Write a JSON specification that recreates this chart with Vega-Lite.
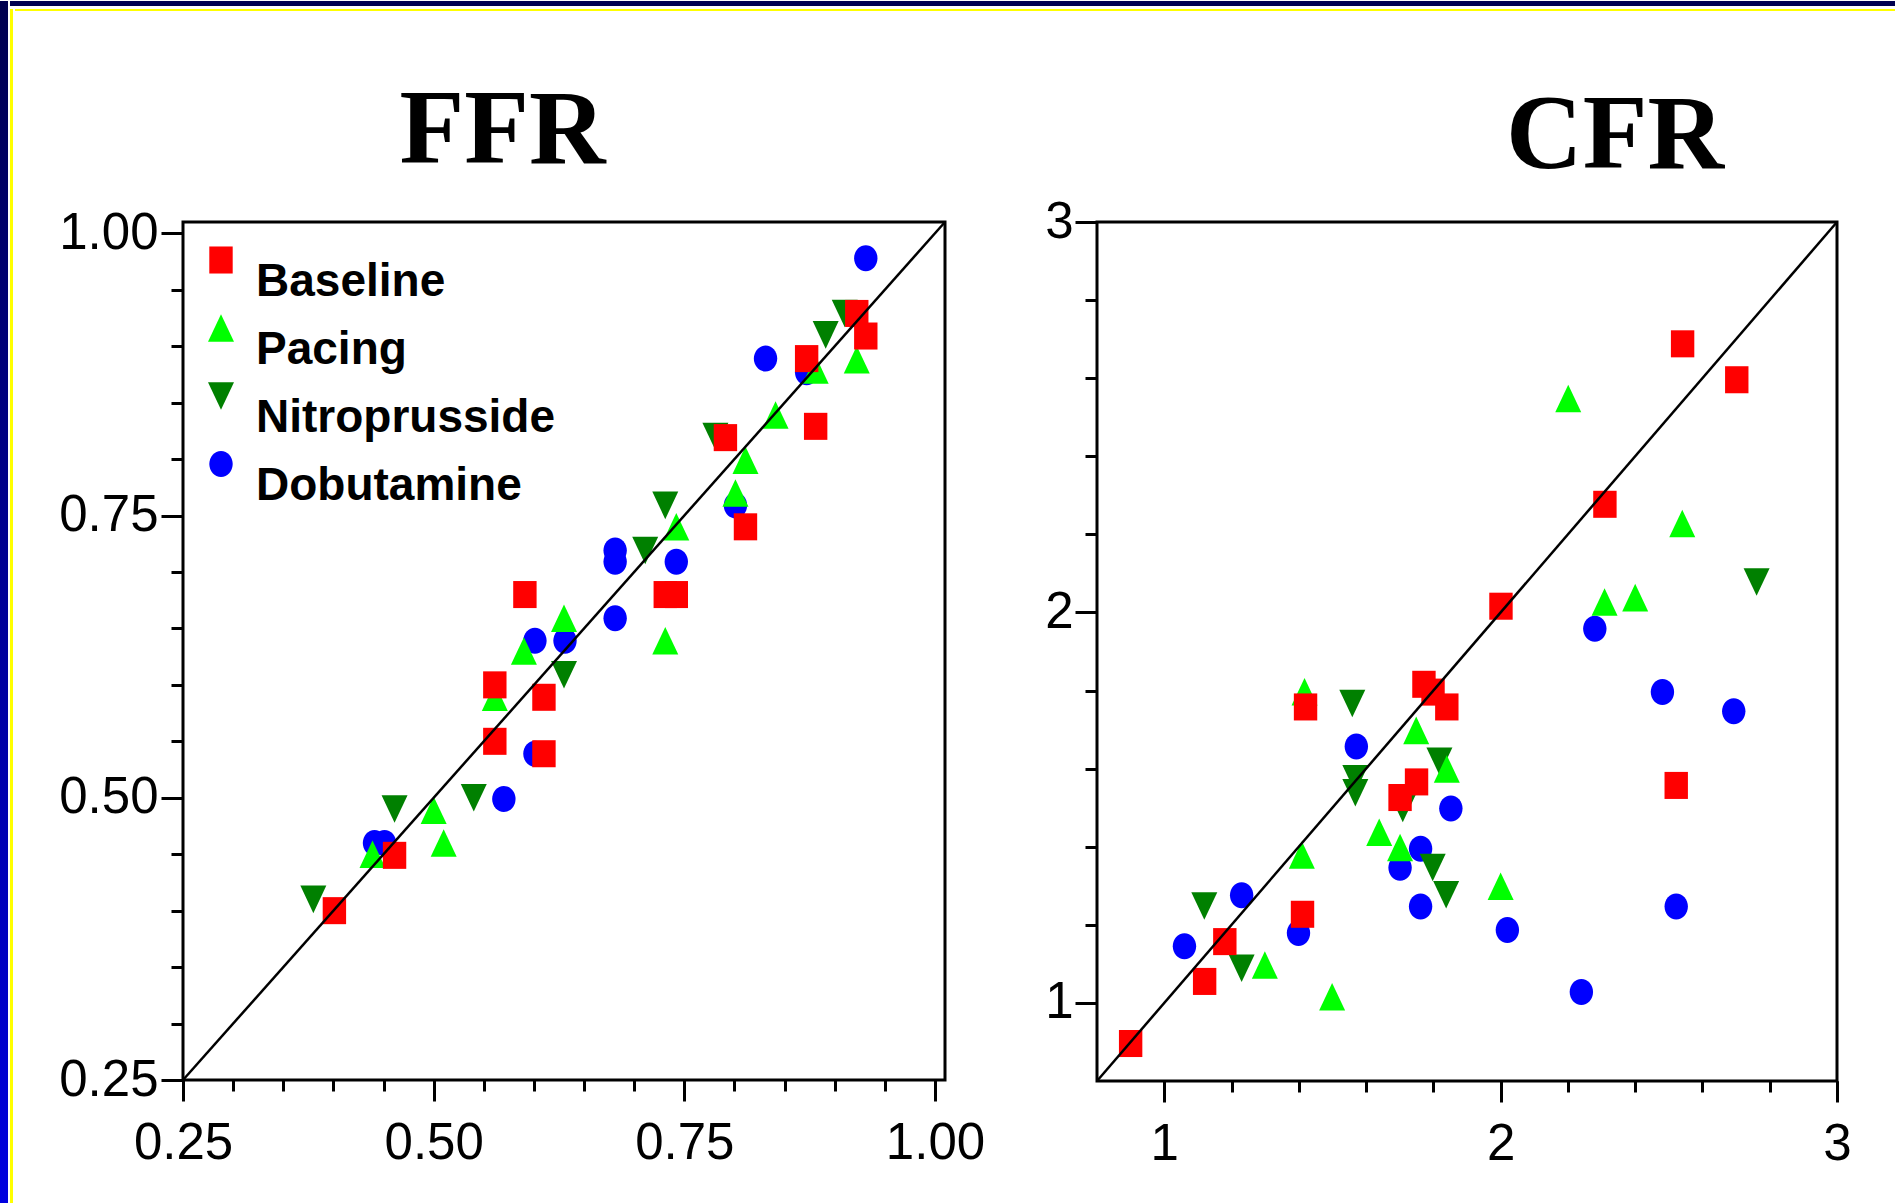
{
  "$schema": "https://vega.github.io/schema/vega-lite/v6.json",
  "padding": 0,
  "background": "white",
  "config": {"view": {"stroke": null}, "font": "Liberation Sans"},
  "datasets": {
    "ffr": [
      {"series": "Dobutamine", "x": 0.441, "y": 0.460},
      {"series": "Dobutamine", "x": 0.451, "y": 0.460},
      {"series": "Dobutamine", "x": 0.570, "y": 0.499},
      {"series": "Dobutamine", "x": 0.601, "y": 0.539},
      {"series": "Dobutamine", "x": 0.601, "y": 0.639},
      {"series": "Dobutamine", "x": 0.631, "y": 0.639},
      {"series": "Dobutamine", "x": 0.681, "y": 0.719},
      {"series": "Dobutamine", "x": 0.681, "y": 0.709},
      {"series": "Dobutamine", "x": 0.681, "y": 0.659},
      {"series": "Dobutamine", "x": 0.742, "y": 0.709},
      {"series": "Dobutamine", "x": 0.801, "y": 0.759},
      {"series": "Dobutamine", "x": 0.831, "y": 0.889},
      {"series": "Dobutamine", "x": 0.872, "y": 0.877},
      {"series": "Dobutamine", "x": 0.931, "y": 0.978},
      {"series": "Nitroprusside", "x": 0.380, "y": 0.410},
      {"series": "Nitroprusside", "x": 0.461, "y": 0.490},
      {"series": "Nitroprusside", "x": 0.540, "y": 0.500},
      {"series": "Nitroprusside", "x": 0.630, "y": 0.609},
      {"series": "Nitroprusside", "x": 0.711, "y": 0.719},
      {"series": "Nitroprusside", "x": 0.731, "y": 0.759},
      {"series": "Nitroprusside", "x": 0.781, "y": 0.820},
      {"series": "Nitroprusside", "x": 0.891, "y": 0.910},
      {"series": "Nitroprusside", "x": 0.910, "y": 0.929},
      {"series": "Pacing", "x": 0.439, "y": 0.450},
      {"series": "Pacing", "x": 0.500, "y": 0.489},
      {"series": "Pacing", "x": 0.510, "y": 0.460},
      {"series": "Pacing", "x": 0.561, "y": 0.589},
      {"series": "Pacing", "x": 0.590, "y": 0.630},
      {"series": "Pacing", "x": 0.630, "y": 0.659},
      {"series": "Pacing", "x": 0.731, "y": 0.639},
      {"series": "Pacing", "x": 0.742, "y": 0.740},
      {"series": "Pacing", "x": 0.801, "y": 0.770},
      {"series": "Pacing", "x": 0.811, "y": 0.799},
      {"series": "Pacing", "x": 0.841, "y": 0.839},
      {"series": "Pacing", "x": 0.881, "y": 0.879},
      {"series": "Pacing", "x": 0.922, "y": 0.888},
      {"series": "Baseline", "x": 0.401, "y": 0.400},
      {"series": "Baseline", "x": 0.461, "y": 0.449},
      {"series": "Baseline", "x": 0.561, "y": 0.550},
      {"series": "Baseline", "x": 0.610, "y": 0.539},
      {"series": "Baseline", "x": 0.591, "y": 0.680},
      {"series": "Baseline", "x": 0.561, "y": 0.600},
      {"series": "Baseline", "x": 0.610, "y": 0.589},
      {"series": "Baseline", "x": 0.731, "y": 0.680},
      {"series": "Baseline", "x": 0.742, "y": 0.680},
      {"series": "Baseline", "x": 0.791, "y": 0.819},
      {"series": "Baseline", "x": 0.881, "y": 0.829},
      {"series": "Baseline", "x": 0.872, "y": 0.889},
      {"series": "Baseline", "x": 0.922, "y": 0.929},
      {"series": "Baseline", "x": 0.931, "y": 0.909},
      {"series": "Baseline", "x": 0.811, "y": 0.740}
    ],
    "cfr": [
      {"series": "Dobutamine", "x": 1.060, "y": 1.145},
      {"series": "Dobutamine", "x": 1.230, "y": 1.276},
      {"series": "Dobutamine", "x": 1.399, "y": 1.179},
      {"series": "Dobutamine", "x": 1.762, "y": 1.247},
      {"series": "Dobutamine", "x": 2.020, "y": 1.187},
      {"series": "Dobutamine", "x": 1.571, "y": 1.657},
      {"series": "Dobutamine", "x": 1.701, "y": 1.346},
      {"series": "Dobutamine", "x": 1.762, "y": 1.395},
      {"series": "Dobutamine", "x": 1.852, "y": 1.498},
      {"series": "Dobutamine", "x": 2.280, "y": 1.958},
      {"series": "Dobutamine", "x": 2.481, "y": 1.796},
      {"series": "Dobutamine", "x": 2.693, "y": 1.747},
      {"series": "Dobutamine", "x": 2.522, "y": 1.247},
      {"series": "Dobutamine", "x": 2.240, "y": 1.028},
      {"series": "Nitroprusside", "x": 1.119, "y": 1.248},
      {"series": "Nitroprusside", "x": 1.230, "y": 1.089},
      {"series": "Nitroprusside", "x": 1.559, "y": 1.767},
      {"series": "Nitroprusside", "x": 1.568, "y": 1.574},
      {"series": "Nitroprusside", "x": 1.568, "y": 1.538},
      {"series": "Nitroprusside", "x": 1.709, "y": 1.498},
      {"series": "Nitroprusside", "x": 1.818, "y": 1.619},
      {"series": "Nitroprusside", "x": 1.798, "y": 1.347},
      {"series": "Nitroprusside", "x": 1.838, "y": 1.277},
      {"series": "Nitroprusside", "x": 2.761, "y": 2.078},
      {"series": "Pacing", "x": 1.299, "y": 1.097},
      {"series": "Pacing", "x": 1.499, "y": 1.016},
      {"series": "Pacing", "x": 1.409, "y": 1.379},
      {"series": "Pacing", "x": 1.417, "y": 1.797},
      {"series": "Pacing", "x": 1.639, "y": 1.437},
      {"series": "Pacing", "x": 1.701, "y": 1.398},
      {"series": "Pacing", "x": 1.749, "y": 1.698},
      {"series": "Pacing", "x": 1.840, "y": 1.599},
      {"series": "Pacing", "x": 2.000, "y": 1.299},
      {"series": "Pacing", "x": 2.201, "y": 2.548},
      {"series": "Pacing", "x": 2.540, "y": 2.228},
      {"series": "Pacing", "x": 2.309, "y": 2.027},
      {"series": "Pacing", "x": 2.400, "y": 2.038},
      {"series": "Baseline", "x": 0.900, "y": 0.896},
      {"series": "Baseline", "x": 1.120, "y": 1.055},
      {"series": "Baseline", "x": 1.180, "y": 1.157},
      {"series": "Baseline", "x": 1.411, "y": 1.227},
      {"series": "Baseline", "x": 1.420, "y": 1.758},
      {"series": "Baseline", "x": 1.701, "y": 1.526},
      {"series": "Baseline", "x": 1.750, "y": 1.566},
      {"series": "Baseline", "x": 1.772, "y": 1.816},
      {"series": "Baseline", "x": 1.799, "y": 1.796},
      {"series": "Baseline", "x": 1.840, "y": 1.758},
      {"series": "Baseline", "x": 2.001, "y": 2.016},
      {"series": "Baseline", "x": 2.310, "y": 2.277},
      {"series": "Baseline", "x": 2.541, "y": 2.688},
      {"series": "Baseline", "x": 2.702, "y": 2.596},
      {"series": "Baseline", "x": 2.522, "y": 1.557}
    ],
    "ffrdiag": [{"x": 0.25, "y": 0.25}, {"x": 1.01, "y": 1.01}],
    "cfrdiag": [{"x": 0.8, "y": 0.8}, {"x": 3.0, "y": 3.0}]
  },
  "spacing": 0,
  "hconcat": [
    {
      "width": 8, "height": 1203,
      "view": {"stroke": null, "fill": {"gradient": "linear", "x1": 0, "y1": 0, "x2": 0, "y2": 1, "stops": [{"offset": 0, "color": "#000050"}, {"offset": 1, "color": "#0000E0"}]}},
      "data": {"values": [{}]},
      "mark": {"type": "point", "opacity": 0},
      "encoding": {}
    },
    {
      "spacing": 0,
      "vconcat": [
        {
          "width": 1887, "height": 5,
          "view": {"stroke": null, "fill": "#000050"},
          "data": {"values": [{}]},
          "mark": {"type": "point", "opacity": 0},
          "encoding": {}
        },
        {
          "spacing": 0,
          "hconcat": [
            {
              "width": 3, "height": 1198,
              "view": {"stroke": null, "fill": "#FFFF00"},
              "data": {"values": [{}]},
              "mark": {"type": "point", "opacity": 0},
              "encoding": {}
            },
            {
              "spacing": 63,
              "vconcat": [
                {
                  "width": 1884, "height": 2,
                  "view": {"stroke": null, "fill": "#FFFF00"},
                  "data": {"values": [{}]},
                  "mark": {"type": "point", "opacity": 0},
                  "encoding": {}
                },
                {
                  "spacing": 0,
                  "hconcat": [
                    {
                      "width": 42, "height": 10,
                      "view": {"stroke": null},
                      "data": {"values": [{}]},
                      "mark": {"type": "point", "opacity": 0},
                      "encoding": {}
                    },
                    {
                      "spacing": 56,
                      "resolve": {"legend": {"color": "independent", "shape": "independent"}},
                      "hconcat": [
                        {
                          "width": 762, "height": 858,
                          "view": {"stroke": "black", "strokeWidth": 3},
                          "title": {"text": "FFR", "font": "Liberation Serif", "fontSize": 106, "fontWeight": "bold", "color": "black", "anchor": "middle", "frame": "group", "dx": -61.5, "offset": -61.4, "baseline": "alphabetic"},
                          "resolve": {"axis": {"x": "independent", "y": "independent"}},
                          "layer": [
                            {
                              "data": {"name": "ffr"},
                              "mark": {"type": "point", "filled": true, "opacity": 1, "size": 676, "strokeWidth": 0},
                              "encoding": {
                                "x": {"field": "x", "type": "quantitative", "scale": {"domain": [0.25, 1.01], "nice": false, "zero": false},
                                  "axis": {"orient": "bottom", "title": null, "grid": false, "domain": false, "values": [0.25, 0.5, 0.75, 1.0], "format": ".2f", "labelFont": "Liberation Sans", "labelFontSize": 51, "labelColor": "black", "labelFlush": false, "labelOverlap": false, "labelPadding": 17, "tickColor": "black", "tickWidth": 3, "tickSize": 21}},
                                "y": {"field": "y", "type": "quantitative", "scale": {"domain": [0.25, 1.01], "nice": false, "zero": false},
                                  "axis": {"orient": "left", "title": null, "grid": false, "domain": false, "values": [0.25, 0.5, 0.75, 1.0], "format": ".2f", "labelFont": "Liberation Sans", "labelFontSize": 51, "labelColor": "black", "labelFlush": false, "labelOverlap": false, "labelPadding": 3, "tickColor": "black", "tickWidth": 3, "tickSize": 22}},
                                "color": {"field": "series", "type": "nominal",
                                  "scale": {"domain": ["Baseline", "Pacing", "Nitroprusside", "Dobutamine"], "range": ["#FF0000", "#00FF00", "#008000", "#0000FF"]},
                                  "legend": {"title": null, "orient": "none", "legendX": 15, "legendY": 15, "padding": 0, "labelFont": "Liberation Sans", "labelFontSize": 46, "labelFontWeight": "bold", "labelColor": "black", "labelBaseline": "top", "labelOffset": 12, "labelLimit": 500, "rowPadding": 0, "symbolSize": 676, "symbolStrokeWidth": 0, "symbolOpacity": 1}},
                                "shape": {"field": "series", "type": "nominal",
                                  "scale": {"domain": ["Baseline", "Pacing", "Nitroprusside", "Dobutamine"], "range": ["M-0.9,-1.04H0.9V1.04H-0.9Z", "M0,-1.06L1,1.06L-1,1.06Z", "M0,1.06L1,-1.06L-1,-1.06Z", "M-0.9,0A0.9,1,0,1,1,0.9,0A0.9,1,0,1,1,-0.9,0Z"]},
                                  "legend": {"title": null, "orient": "none", "legendX": 15, "legendY": 15, "padding": 0, "labelFont": "Liberation Sans", "labelFontSize": 46, "labelFontWeight": "bold", "labelColor": "black", "labelBaseline": "top", "labelOffset": 12, "labelLimit": 500, "rowPadding": 0, "symbolSize": 676, "symbolStrokeWidth": 0, "symbolOpacity": 1}}
                              }
                            },
                            {
                              "data": {"name": "ffrdiag"},
                              "mark": {"type": "line", "color": "black", "strokeWidth": 2.5},
                              "encoding": {
                                "x": {"field": "x", "type": "quantitative", "scale": {"domain": [0.25, 1.01], "nice": false, "zero": false},
                                  "axis": {"orient": "bottom", "title": null, "grid": false, "domain": false, "labels": false, "values": [0.25, 0.3, 0.35, 0.4, 0.45, 0.5, 0.55, 0.6, 0.65, 0.7, 0.75, 0.8, 0.85, 0.9, 0.95, 1.0], "tickColor": "black", "tickWidth": 3, "tickSize": 11}},
                                "y": {"field": "y", "type": "quantitative", "scale": {"domain": [0.25, 1.01], "nice": false, "zero": false},
                                  "axis": {"orient": "left", "title": null, "grid": false, "domain": false, "labels": false, "values": [0.25, 0.3, 0.35, 0.4, 0.45, 0.5, 0.55, 0.6, 0.65, 0.7, 0.75, 0.8, 0.85, 0.9, 0.95, 1.0], "tickColor": "black", "tickWidth": 3, "tickSize": 12}}
                              }
                            }
                          ]
                        },
                        {
                          "width": 740, "height": 859,
                          "view": {"stroke": "black", "strokeWidth": 3},
                          "title": {"text": "CFR", "font": "Liberation Serif", "fontSize": 106, "fontWeight": "bold", "color": "black", "anchor": "middle", "frame": "group", "dx": 148, "offset": -78.1, "baseline": "alphabetic"},
                          "resolve": {"axis": {"x": "independent", "y": "independent"}},
                          "layer": [
                            {
                              "data": {"name": "cfr"},
                              "mark": {"type": "point", "filled": true, "opacity": 1, "size": 676, "strokeWidth": 0},
                              "encoding": {
                                "x": {"field": "x", "type": "quantitative", "scale": {"domain": [0.8, 3.0], "nice": false, "zero": false},
                                  "axis": {"orient": "bottom", "title": null, "grid": false, "domain": false, "values": [1, 2, 3], "format": "d", "labelFont": "Liberation Sans", "labelFontSize": 51, "labelColor": "black", "labelFlush": false, "labelOverlap": false, "labelPadding": 17, "tickColor": "black", "tickWidth": 3, "tickSize": 21}},
                                "y": {"field": "y", "type": "quantitative", "scale": {"domain": [0.8, 3.0], "nice": false, "zero": false},
                                  "axis": {"orient": "left", "title": null, "grid": false, "domain": false, "values": [1, 2, 3], "format": "d", "labelFont": "Liberation Sans", "labelFontSize": 51, "labelColor": "black", "labelFlush": false, "labelOverlap": false, "labelPadding": 2, "tickColor": "black", "tickWidth": 3, "tickSize": 22}},
                                "color": {"field": "series", "type": "nominal",
                                  "scale": {"domain": ["Baseline", "Pacing", "Nitroprusside", "Dobutamine"], "range": ["#FF0000", "#00FF00", "#008000", "#0000FF"]},
                                  "legend": null},
                                "shape": {"field": "series", "type": "nominal",
                                  "scale": {"domain": ["Baseline", "Pacing", "Nitroprusside", "Dobutamine"], "range": ["M-0.9,-1.04H0.9V1.04H-0.9Z", "M0,-1.06L1,1.06L-1,1.06Z", "M0,1.06L1,-1.06L-1,-1.06Z", "M-0.9,0A0.9,1,0,1,1,0.9,0A0.9,1,0,1,1,-0.9,0Z"]},
                                  "legend": null}
                              }
                            },
                            {
                              "data": {"name": "cfrdiag"},
                              "mark": {"type": "line", "color": "black", "strokeWidth": 2.5},
                              "encoding": {
                                "x": {"field": "x", "type": "quantitative", "scale": {"domain": [0.8, 3.0], "nice": false, "zero": false},
                                  "axis": {"orient": "bottom", "title": null, "grid": false, "domain": false, "labels": false, "values": [1, 1.2, 1.4, 1.6, 1.8, 2, 2.2, 2.4, 2.6, 2.8, 3], "tickColor": "black", "tickWidth": 3, "tickSize": 11}},
                                "y": {"field": "y", "type": "quantitative", "scale": {"domain": [0.8, 3.0], "nice": false, "zero": false},
                                  "axis": {"orient": "left", "title": null, "grid": false, "domain": false, "labels": false, "values": [1, 1.2, 1.4, 1.6, 1.8, 2, 2.2, 2.4, 2.6, 2.8, 3], "tickColor": "black", "tickWidth": 3, "tickSize": 12}}
                              }
                            }
                          ]
                        }
                      ]
                    }
                  ]
                }
              ]
            }
          ]
        }
      ]
    }
  ]
}
